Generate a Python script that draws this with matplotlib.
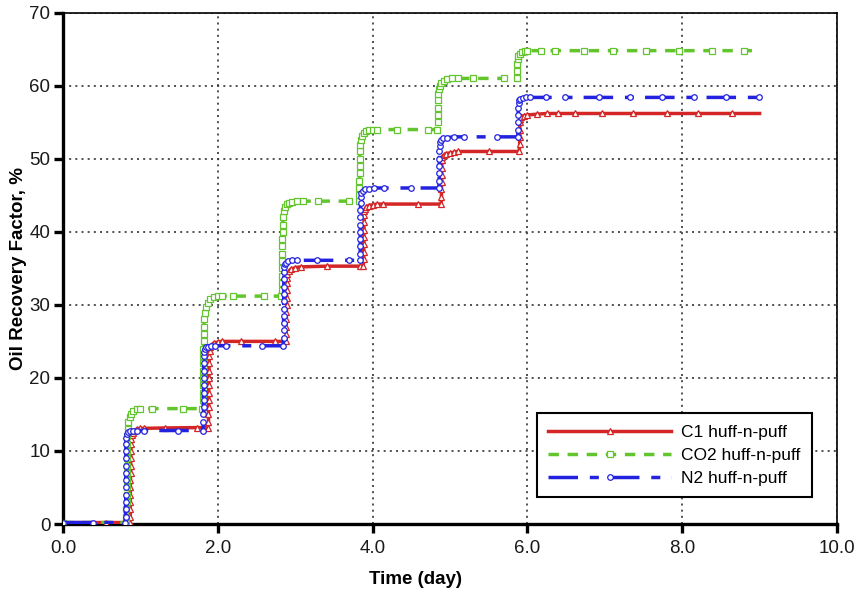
import matplotlib
matplotlib.use("Agg")
import matplotlib.pyplot as plt
import numpy as np

plt.rcParams["font.family"] = ["Liberation Sans", "DejaVu Sans"]

# ---- C1 huff-n-puff: cumulative oil recovery (time in days, recovery in %) ----
c1_time = [
    0.00, 0.55, 0.86,
    0.870, 0.870, 0.870, 0.871, 0.871, 0.872, 0.873, 0.874, 0.875, 0.877, 0.880,
    0.885, 0.89, 0.90, 0.92, 0.95, 1.00, 1.05, 1.32, 1.73, 1.875,
    1.880, 1.880, 1.881, 1.882, 1.883, 1.884, 1.885, 1.886, 1.888, 1.890,
    1.895, 1.90, 1.92, 1.95, 2.00, 2.05, 2.30, 2.74, 2.88,
    2.885, 2.885, 2.886, 2.887, 2.888, 2.889, 2.890, 2.892,
    2.895, 2.90, 2.92, 2.95, 3.00, 3.07, 3.41, 3.84, 3.88,
    3.885, 3.885, 3.886, 3.887, 3.888, 3.890, 3.892,
    3.895, 3.90, 3.92, 3.95, 4.00, 4.06, 4.14, 4.59, 4.885,
    4.890, 4.890, 4.891, 4.892, 4.894, 4.896,
    4.90, 4.92, 4.95, 5.00, 5.05, 5.10, 5.50, 5.895,
    5.900, 5.901, 5.902, 5.904,
    5.91, 5.92, 5.95, 6.00, 6.12, 6.25, 6.40, 6.62, 6.97, 7.37, 7.80, 8.21, 8.64, 9.00,
]
c1_rf = [
    0.2, 0.2, 0.2,
    1.0, 2.0, 3.0, 4.0, 5.0, 6.0, 7.0, 8.0, 9.0, 10.0, 11.0,
    11.7, 12.2, 12.5, 12.8, 13.0, 13.1, 13.1, 13.15, 13.2, 13.2,
    14.0, 15.0, 16.0, 17.0, 18.0, 19.0, 20.0, 21.0, 22.0, 23.0,
    23.7, 24.2, 24.5, 24.8, 24.9, 25.0, 25.0, 25.0, 25.0,
    26.0, 27.0, 28.0, 29.0, 30.0, 31.0, 32.0, 33.0,
    33.7, 34.2, 34.6, 34.9, 35.1, 35.2, 35.3, 35.3, 35.3,
    36.3, 37.3, 38.3, 39.3, 40.3, 41.3, 42.3,
    42.8, 43.1, 43.4, 43.6, 43.7, 43.8, 43.8, 43.8, 43.8,
    44.8, 45.8, 46.8, 47.8, 48.8, 49.8,
    50.2, 50.5, 50.7, 50.8, 50.9, 51.0, 51.0, 51.0,
    52.0, 53.0, 54.0, 55.0,
    55.5, 55.7, 55.9, 56.0, 56.1, 56.2, 56.2, 56.2, 56.2, 56.2, 56.2, 56.2, 56.2, 56.2,
]

# ---- CO2 huff-n-puff ----
co2_time = [
    0.00, 0.81,
    0.820, 0.820, 0.821, 0.821, 0.822, 0.822, 0.823, 0.824, 0.825, 0.826, 0.828, 0.830,
    0.835, 0.845, 0.86, 0.88, 0.91, 0.95, 1.00, 1.15, 1.55, 1.80,
    1.810, 1.810, 1.811, 1.811, 1.812, 1.813, 1.814, 1.815, 1.816, 1.818, 1.820,
    1.825, 1.835, 1.85, 1.87, 1.90, 1.95, 2.00, 2.05, 2.20, 2.60, 2.82,
    2.830, 2.830, 2.831, 2.832, 2.833, 2.834, 2.835, 2.836, 2.838, 2.840,
    2.845, 2.855, 2.87, 2.89, 2.92, 2.96, 3.02, 3.10, 3.30, 3.70, 3.82,
    3.830, 3.830, 3.831, 3.832, 3.833, 3.835, 3.837,
    3.84, 3.85, 3.865, 3.885, 3.91, 3.95, 4.01, 4.06, 4.32, 4.72, 4.83,
    4.840, 4.841, 4.842, 4.844,
    4.847, 4.855, 4.87, 4.89, 4.92, 4.96, 5.03, 5.10, 5.30, 5.70, 5.865,
    5.870, 5.872,
    5.875, 5.885, 5.90, 5.93, 5.97, 6.00, 6.17, 6.36, 6.73, 7.11, 7.53, 7.96, 8.38, 8.80, 9.00,
]
co2_rf = [
    0.2, 0.2,
    1.0, 2.0, 3.0, 4.0, 5.0, 6.0, 7.0, 8.0, 9.0, 10.0, 11.0, 12.0,
    13.0, 13.9, 14.6, 15.1, 15.5, 15.7, 15.8, 15.8, 15.8, 15.8,
    17.0, 18.0, 19.0, 20.0, 21.0, 22.0, 23.0, 24.0, 25.0, 26.0, 27.0,
    28.0, 28.9, 29.7, 30.3, 30.8, 31.1, 31.2, 31.2, 31.2, 31.2, 31.2,
    32.0, 33.0, 34.0, 35.0, 36.0, 37.0, 38.0, 39.0, 40.0, 41.0,
    42.0, 42.8, 43.4, 43.8, 44.0, 44.1, 44.2, 44.2, 44.2, 44.2, 44.2,
    45.0, 46.0, 47.0, 48.0, 49.0, 50.0, 51.0,
    51.9, 52.6, 53.1, 53.5, 53.8, 53.9, 54.0, 54.0, 54.0, 54.0, 54.0,
    55.0, 56.0, 57.0, 58.0,
    58.8, 59.5, 60.0, 60.4, 60.7, 60.9, 61.0, 61.0, 61.0, 61.0, 61.0,
    62.0, 63.0,
    63.6, 64.1, 64.4, 64.6, 64.7, 64.8, 64.8, 64.8, 64.8, 64.8, 64.8, 64.8, 64.8, 64.8, 64.8,
]

# ---- N2 huff-n-puff ----
n2_time = [
    0.00, 0.39, 0.80,
    0.810, 0.810, 0.811, 0.811, 0.812, 0.812, 0.813, 0.813, 0.814, 0.814, 0.815,
    0.818, 0.825, 0.84, 0.87, 0.91, 0.96, 1.05, 1.49, 1.81,
    1.815, 1.815, 1.816, 1.816, 1.817, 1.817, 1.818, 1.818, 1.819, 1.820,
    1.823, 1.83, 1.845, 1.87, 1.91, 1.97, 2.10, 2.57, 2.845,
    2.850, 2.850, 2.851, 2.851, 2.852, 2.852, 2.853, 2.853, 2.854, 2.855,
    2.858, 2.865, 2.88, 2.91, 2.96, 3.02, 3.28, 3.69, 3.835,
    3.840, 3.840, 3.841, 3.841, 3.842, 3.843, 3.844, 3.845,
    3.848, 3.855, 3.87, 3.90, 3.95, 4.02, 4.15, 4.50, 4.855,
    4.860, 4.861, 4.862, 4.863, 4.864,
    4.866, 4.872, 4.885, 4.91, 4.96, 5.05, 5.18, 5.61, 5.875,
    5.880, 5.881, 5.882, 5.883,
    5.886, 5.893, 5.91, 5.94, 5.98, 6.04, 6.24, 6.49, 6.92, 7.32, 7.74, 8.15, 8.56, 8.99,
]
n2_rf = [
    0.2, 0.2, 0.2,
    1.0, 2.0, 3.0, 4.0, 5.0, 6.0, 7.0, 8.0, 9.0, 10.0, 11.0,
    11.8, 12.3, 12.6, 12.7, 12.8, 12.8, 12.8, 12.8, 12.8,
    14.0, 15.0, 16.0, 17.0, 18.0, 19.0, 20.0, 21.0, 22.0, 23.0,
    23.6, 24.0, 24.2, 24.3, 24.4, 24.4, 24.4, 24.4, 24.4,
    25.5, 26.5, 27.5, 28.5, 29.5, 30.5, 31.5, 32.5, 33.5, 34.5,
    35.2, 35.6, 35.8, 36.0, 36.1, 36.1, 36.1, 36.1, 36.1,
    37.0, 38.0, 39.0, 40.0, 41.0, 42.0, 43.0, 44.0,
    44.8, 45.3, 45.6, 45.8, 45.9, 46.0, 46.0, 46.0, 46.0,
    47.0, 48.0, 49.0, 50.0, 51.0,
    51.8, 52.3, 52.6, 52.8, 52.9, 53.0, 53.0, 53.0, 53.0,
    54.0, 55.0, 56.0, 57.0,
    57.7, 58.0, 58.2, 58.3, 58.4, 58.4, 58.4, 58.4, 58.4, 58.4, 58.4, 58.4, 58.4, 58.4,
]

series_labels = ["C1 huff-n-puff", "CO2 huff-n-puff", "N2 huff-n-puff"]
x_ticks = [0, 2, 4, 6, 8, 10]
x_tick_labels = ["0.0", "2.0", "4.0", "6.0", "8.0", "10.0"]
y_ticks = [0, 10, 20, 30, 40, 50, 60, 70]

fig = plt.figure(figsize=(8.65, 5.95), dpi=100)
ax = fig.add_axes([0.0728, 0.1193, 0.8948, 0.8594])

red, green, blue = "#d42626", "#62c52d", "#2222e0"

ax.plot(c1_time, c1_rf, color=red, lw=2.5, ls="-", marker="^", ms=5,
        mfc="white", mec=red, mew=0.9, markevery=slice(0, -1),
        label=series_labels[0], zorder=3)
ax.plot(co2_time, co2_rf, color=green, lw=2.5, ls=(0, (3.0, 2.5)), marker="s", ms=4,
        mfc="white", mec=green, mew=0.9, markevery=slice(0, -1),
        label=series_labels[1], zorder=3)
ax.plot(n2_time, n2_rf, color=blue, lw=2.5, ls=(0, (8.5, 3.4, 2.6, 3.2)), marker="o", ms=4,
        mfc="white", mec=blue, mew=0.9,
        label=series_labels[2], zorder=4)

ax.set_xlim(0, 10)
ax.set_ylim(0, 70)
ax.set_xticks(x_ticks)
ax.set_xticklabels(x_tick_labels)
ax.set_yticks(y_ticks)

ax.grid(True, color="#333333", lw=1.2, ls=(0, (1.2, 2.5)))
ax.set_axisbelow(True)

for side in ("left", "bottom"):
    ax.spines[side].set_linewidth(2.4)
for side in ("top", "right"):
    ax.spines[side].set_linewidth(1.2)
ax.tick_params(axis="both", direction="out", length=6.5, width=2.4,
               labelsize=13.5, colors="black", labelcolor="#1a1a1a")
ax.tick_params(axis="y", pad=2.5)
ax.tick_params(axis="x", pad=5)

ax.set_xlabel("Time (day)", fontsize=13.5, fontweight="bold")
ax.xaxis.set_label_coords(0.455, -0.092)
ax.set_ylabel("Oil Recovery Factor, %", fontsize=13.5, fontweight="bold", labelpad=1.5)

leg = ax.legend(loc="lower right", bbox_to_anchor=(0.9677, 0.0528), borderaxespad=0,
                fontsize=12.5, handlelength=7.1, handletextpad=0.58, labelspacing=0.45,
                borderpad=0.65, numpoints=1, fancybox=False, framealpha=1,
                edgecolor="black")
leg.get_frame().set_linewidth(1.5)

fig.savefig("out.png", dpi=100)
